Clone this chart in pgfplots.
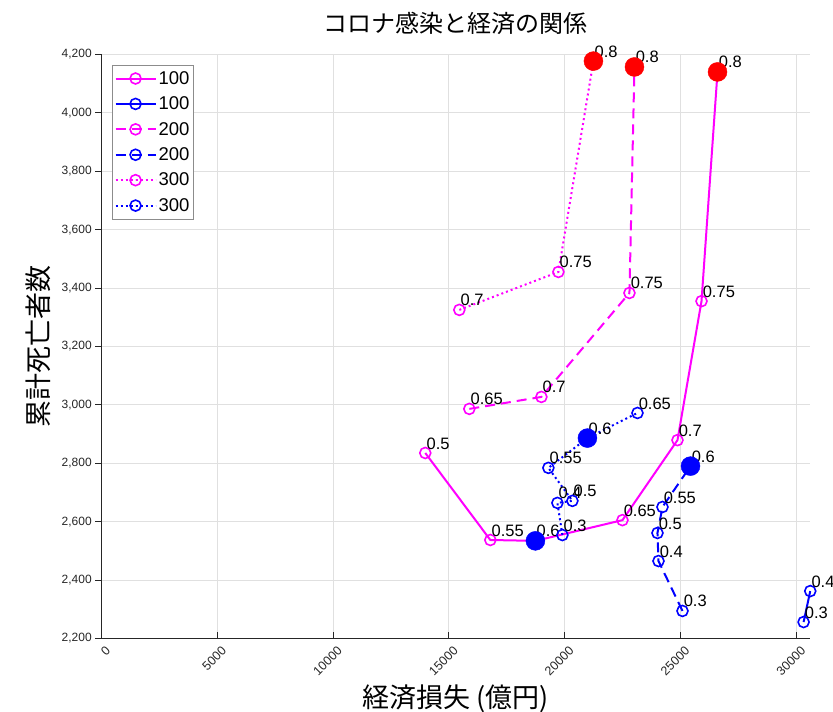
\documentclass[border=0pt]{standalone}
\usepackage{fontspec}
\setmainfont{Liberation Sans}
\newfontfamily\jp{Noto Sans CJK JP}
\usepackage{pgfplots}
\usepackage{pgfplotstable}
\pgfplotsset{compat=1.18}
\definecolor{mag}{rgb}{1,0,1}
\definecolor{blu}{rgb}{0,0,1}
\definecolor{rd}{rgb}{1,0,0}
\definecolor{axgray}{rgb}{0.15,0.15,0.15}
\definecolor{gridgray}{rgb}{0.88,0.88,0.88}
\definecolor{leggray}{rgb}{0.55,0.55,0.55}

\pgfplotstableread{
x y l
13985 2835 0.5
16793 2537 0.55
18737 2534 0.6
22495 2605 0.65
24870 2879 0.7
25907 3355 0.75
26598 4140 0.8
}\magA
\pgfplotstableread{
x y l
30313 2256 0.3
30600 2362 0.4
}\bluA
\pgfplotstableread{
x y l
15886 2986 0.65
18996 3027 0.7
22797 3383 0.75
23013 4157 0.8
}\magB
\pgfplotstableread{
x y l
25086 2294 0.3
24050 2465 0.4
24006 2561 0.5
24222 2650 0.55
25432 2790 0.6
}\bluB
\pgfplotstableread{
x y l
15454 3325 0.7
19730 3455 0.75
21242 4177 0.8
}\magC
\pgfplotstableread{
x y l
19903 2554 0.3
19687 2664 0.4
20335 2671 0.5
19298 2784 0.55
20983 2886 0.6
23143 2972 0.65
}\bluC

\begin{document}
\begin{tikzpicture}
\begin{axis}[
  scale only axis,
  width=709pt, height=584pt,
  xmin=0, xmax=30600, ymin=2200, ymax=4200,
  clip=false,
  axis x line*=bottom, axis y line*=left,
  axis line style={axgray, line width=0.7pt},
  xtick={0,5000,...,30000},
  ytick={2200,2400,...,4200},
  scaled x ticks=false, scaled y ticks=false,
  xtick align=inside, ytick align=outside,
  major tick length=6pt,
  tick style={axgray, line width=0.7pt},
  grid=major,
  major grid style={gridgray, line width=0.6pt},
  /pgf/number format/assume math mode=true,
  yticklabel style={font=\fontsize{12}{14}\selectfont, text=axgray, /pgf/number format/1000 sep={,}},
  xticklabel style={font=\fontsize{12.5}{14}\selectfont, text=axgray, /pgf/number format/1000 sep={}, xshift=7pt, yshift=-10pt, rotate=45, anchor=east, inner sep=0pt},
  title={\jp コロナ感染と経済の関係},
  title style={font=\fontsize{24}{28}\selectfont, at={(0.5,1)}, anchor=center, yshift=25pt},
  xlabel={\jp 経済損失 (億円)},
  xlabel style={font=\fontsize{27}{30}\selectfont, at={(0.5,0)}, anchor=center, yshift=-60pt},
  ylabel={\jp 累計死亡者数},
  ylabel style={font=\fontsize{27}{30}\selectfont, at={(0,0.5)}, anchor=center, yshift=63pt},
  legend style={at={(0,1)}, anchor=north west, xshift=11pt, yshift=-10.6pt,
    draw=leggray, line width=0.6pt, fill=white, font=\fontsize{18.5}{20}\selectfont,
    inner xsep=2pt, inner ysep=4pt, row sep=7pt, cells={anchor=west}},
  legend image code/.code={\draw[mark repeat=2,mark phase=2,#1] plot coordinates {(0pt,0pt) (20pt,0pt) (40pt,0pt)};},
  lab/.style={nodes near coords, point meta=explicit symbolic,
    every node near coord/.append style={anchor=south west, inner sep=0pt, xshift=0.5pt, yshift=3pt, font=\fontsize{16.5}{18}\selectfont, text=black}},
]
\addplot[mag, solid, line width=2pt, mark=o, mark size=5.5pt, mark options={solid, line width=1.6pt}, lab] table[x=x,y=y,meta=l] {\magA};
\addlegendentry{100}
\addplot[blu, solid, line width=2pt, mark=o, mark size=5.5pt, mark options={solid, line width=1.6pt}, lab] table[x=x,y=y,meta=l] {\bluA};
\addlegendentry{100}
\addplot[mag, dash pattern=on 10pt off 6pt, line width=2pt, mark=o, mark size=5.5pt, mark options={solid, line width=1.6pt}, lab] table[x=x,y=y,meta=l] {\magB};
\addlegendentry{200}
\addplot[blu, dash pattern=on 10pt off 6pt, line width=2pt, mark=o, mark size=5.5pt, mark options={solid, line width=1.6pt}, lab] table[x=x,y=y,meta=l] {\bluB};
\addlegendentry{200}
\addplot[mag, dash pattern=on 2pt off 3pt, line width=2pt, mark=o, mark size=5.5pt, mark options={solid, line width=1.6pt}, lab] table[x=x,y=y,meta=l] {\magC};
\addlegendentry{300}
\addplot[blu, dash pattern=on 2pt off 3pt, line width=2pt, mark=o, mark size=5.5pt, mark options={solid, line width=1.6pt}, lab] table[x=x,y=y,meta=l] {\bluC};
\addlegendentry{300}
\addplot[rd, only marks, mark=*, mark size=9.5pt, forget plot] coordinates {(26598,4140) (23013,4157) (21242,4177)};
\addplot[blu, only marks, mark=*, mark size=9.5pt, forget plot] coordinates {(18737,2534) (25432,2790) (20983,2886)};
\coordinate (bl) at (rel axis cs:0,0);
\end{axis}
\pgfresetboundingbox
\path ([shift={(-101.25pt,-73.6pt)}]bl) rectangle ([shift={(731.75pt,638.4pt)}]bl);
\end{tikzpicture}
\end{document}
